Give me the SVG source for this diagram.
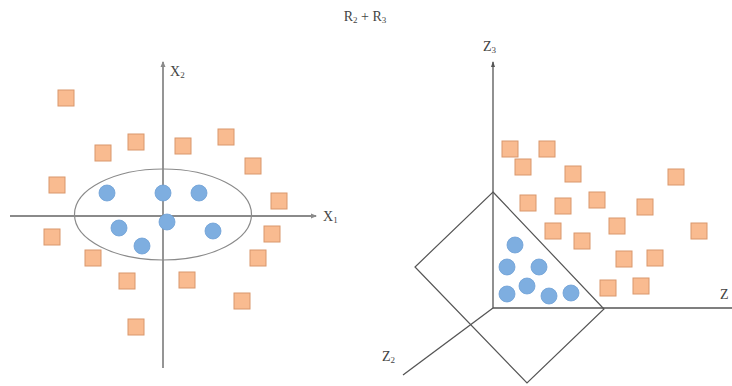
<svg xmlns="http://www.w3.org/2000/svg" width="732" height="386" viewBox="0 0 732 386">
<style>
.axL{stroke:#8a8a8a;stroke-width:1.8;fill:none}
.axR{stroke:#555;stroke-width:1.3;fill:none}
.sq{fill:#f9bb90;stroke:#d9976c;stroke-width:1}
.ci{fill:#7eaee0;stroke:#6d9fd6;stroke-width:0.8}
.lbl{font-family:"Liberation Serif",serif;font-size:14px;fill:#444}
.sub{font-size:9px}
</style>
<defs>
<marker id="ahL" markerWidth="6" markerHeight="6" refX="5" refY="3" orient="auto" markerUnits="userSpaceOnUse"><path d="M0,0.5 L6,3 L0,5.5 Z" fill="#8a8a8a"/></marker>
<marker id="ahR" markerWidth="6" markerHeight="6" refX="5" refY="3" orient="auto" markerUnits="userSpaceOnUse"><path d="M0,1 L6,3 L0,5 Z" fill="#555"/></marker>
<symbol id="s" overflow="visible"><rect class="sq" x="-8" y="-8" width="16" height="16"/></symbol>
</defs>
<rect width="732" height="386" fill="#fff"/>

<text class="lbl" x="365" y="21" text-anchor="middle" style="font-size:14px">R<tspan class="sub" dy="2">2</tspan><tspan dy="-2"> + R</tspan><tspan class="sub" dy="2">3</tspan></text>

<g id="left-panel">
<g id="left-axes">
<line class="axL" x1="163" y1="368" x2="163" y2="62" marker-end="url(#ahL)"/>
<line class="axL" x1="10" y1="216" x2="316" y2="216" marker-end="url(#ahL)"/>
<text class="lbl" x="170" y="76">X<tspan class="sub" dy="2">2</tspan></text>
<text class="lbl" x="323" y="221">X<tspan class="sub" dy="2">1</tspan></text>
</g>
<ellipse id="boundary" cx="163" cy="214.5" rx="88.5" ry="45.5" fill="none" stroke="#8a8a8a" stroke-width="1.2"/>
<g id="left-circles">
<circle class="ci" cx="107" cy="193" r="8"/>
<circle class="ci" cx="163" cy="193" r="8"/>
<circle class="ci" cx="199" cy="193" r="8"/>
<circle class="ci" cx="119" cy="228" r="8"/>
<circle class="ci" cx="167" cy="222" r="8"/>
<circle class="ci" cx="213" cy="231" r="8"/>
<circle class="ci" cx="142" cy="246" r="8"/>
</g>
<g id="left-squares">
<use href="#s" x="66" y="98"/>
<use href="#s" x="136" y="142"/>
<use href="#s" x="103" y="153"/>
<use href="#s" x="183" y="146"/>
<use href="#s" x="226" y="137"/>
<use href="#s" x="253" y="166"/>
<use href="#s" x="57" y="185"/>
<use href="#s" x="279" y="201"/>
<use href="#s" x="52" y="237"/>
<use href="#s" x="272" y="234"/>
<use href="#s" x="93" y="258"/>
<use href="#s" x="258" y="258"/>
<use href="#s" x="127" y="281"/>
<use href="#s" x="187" y="280"/>
<use href="#s" x="242" y="301"/>
<use href="#s" x="136" y="327"/>
</g>
</g>

<g id="right-panel">
<g id="right-axes">
<line class="axR" x1="493" y1="308" x2="493" y2="62" marker-end="url(#ahR)"/>
<line class="axR" x1="493" y1="308" x2="732" y2="308"/>
<line class="axR" x1="493" y1="308" x2="403" y2="375"/>
<text class="lbl" x="483" y="51">Z<tspan class="sub" dy="2">3</tspan></text>
<text class="lbl" x="720" y="299">Z</text>
<text class="lbl" x="382" y="361">Z<tspan class="sub" dy="2">2</tspan></text>
</g>
<polygon id="plane" points="493,192 604,309 527,383 415,267" fill="none" stroke="#555" stroke-width="1.2"/>
<g id="right-circles">
<circle class="ci" cx="515" cy="245" r="8"/>
<circle class="ci" cx="507" cy="267" r="8"/>
<circle class="ci" cx="539" cy="267" r="8"/>
<circle class="ci" cx="507" cy="294" r="8"/>
<circle class="ci" cx="527" cy="286" r="8"/>
<circle class="ci" cx="549" cy="296" r="8"/>
<circle class="ci" cx="571" cy="293" r="8"/>
</g>
<g id="right-squares">
<use href="#s" x="510" y="149"/>
<use href="#s" x="547" y="149"/>
<use href="#s" x="523" y="167"/>
<use href="#s" x="573" y="174"/>
<use href="#s" x="676" y="177"/>
<use href="#s" x="528" y="203"/>
<use href="#s" x="563" y="206"/>
<use href="#s" x="597" y="200"/>
<use href="#s" x="645" y="207"/>
<use href="#s" x="553" y="231"/>
<use href="#s" x="617" y="226"/>
<use href="#s" x="582" y="241"/>
<use href="#s" x="699" y="231"/>
<use href="#s" x="624" y="259"/>
<use href="#s" x="655" y="258"/>
<use href="#s" x="608" y="288"/>
<use href="#s" x="641" y="286"/>
</g>
</g>
</svg>
